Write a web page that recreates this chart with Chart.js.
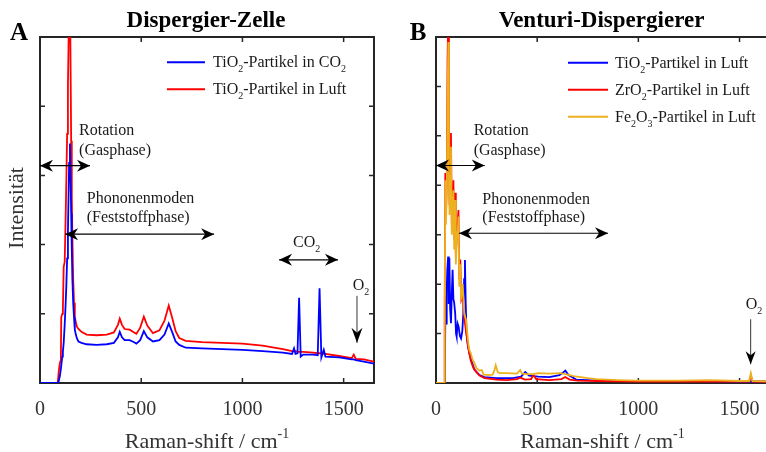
<!DOCTYPE html>
<html lang="de">
<head>
<meta charset="UTF-8" />
<title>Raman-Spektren</title>
<script src="https://cdn.jsdelivr.net/npm/chart.js"></script>
<style>
  html, body { margin: 0; padding: 0; background: #fff; overflow: hidden; }
  .panel { position: absolute; top: 0; }
  #chartA { left: 0; }
  #chartB { left: 383px; }
</style>
</head>
<body>
<canvas id="chartA" class="panel" width="383" height="452"></canvas>
<canvas id="chartB" class="panel" width="410" height="452"></canvas>

<script>
  // --- Panel A: Dispergier-Zelle ---
  const aShift = [0, 80, 88, 92, 98, 103, 105, 110, 113, 117, 122, 126, 130, 134, 138, 141, 144, 148, 151, 154, 157, 160, 164, 168, 172, 177, 183, 190, 205, 230, 280, 330, 365, 385, 394, 405, 418, 443, 465, 476, 495, 513, 530, 558, 590, 615, 636, 655, 670, 688, 720, 800, 900, 1000, 1100, 1200, 1245, 1255, 1262, 1272, 1280, 1288, 1300, 1350, 1372, 1381, 1390, 1402, 1410, 1477, 1540, 1550, 1560, 1600, 1650];
  const aTiCO2 = [0, 0, 0, 0.02, 0.1, 0.2, 0.25, 0.38, 0.45, 0.58, 0.85, 1.1, 1.4, 1.8, 2.2, 2.7, 3.18, 3.46, 3.0, 2.45, 1.95, 1.5, 1.16, 0.95, 0.77, 0.7, 0.64, 0.6, 0.58, 0.56, 0.55, 0.56, 0.58, 0.66, 0.74, 0.66, 0.62, 0.62, 0.59, 0.57, 0.62, 0.75, 0.66, 0.6, 0.62, 0.7, 0.86, 0.72, 0.6, 0.55, 0.51, 0.5, 0.49, 0.48, 0.46, 0.44, 0.42, 0.5, 0.42, 0.43, 1.23, 0.38, 0.41, 0.41, 0.4, 1.37, 0.37, 0.48, 0.38, 0.37, 0.34, 0.34, 0.33, 0.31, 0.28];
  const aTiLuft = [0, 0, 0.01, 0.15, 0.29, 0.33, 0.95, 1.0, 1.05, 1.68, 1.75, 2.3, 2.9, 3.6, 4.3, 4.9, 5.4, 5.7, 4.6, 3.5, 2.69, 2.1, 1.5, 1.16, 0.95, 0.88, 0.81, 0.78, 0.74, 0.7, 0.69, 0.7, 0.73, 0.84, 0.93, 0.84, 0.78, 0.77, 0.73, 0.71, 0.8, 0.96, 0.83, 0.72, 0.76, 0.9, 1.12, 0.92, 0.75, 0.65, 0.61, 0.59, 0.58, 0.57, 0.54, 0.49, 0.46, 0.46, 0.46, 0.45, 0.45, 0.45, 0.45, 0.44, 0.43, 0.43, 0.43, 0.42, 0.42, 0.39, 0.36, 0.41, 0.35, 0.34, 0.31];

  // --- Panel B: Venturi-Dispergierer ---
  const bTiShift = [0, 40, 44, 47, 50, 53, 56, 60, 63, 66, 70, 74, 78, 82, 86, 90, 95, 99, 102, 107, 112, 118, 124, 130, 135, 139, 143, 147, 151, 156, 160, 165, 175, 190, 215, 240, 300, 380, 420, 441, 460, 482, 505, 560, 610, 625, 639, 655, 693, 800, 1000, 1300, 1500, 1700];
  const bTiLuft = [0, 0, 0.3, 1.75, 1.2, 1.9, 2.3, 2.56, 1.6, 2.53, 1.5, 1.21, 1.8, 2.29, 1.7, 1.62, 1.4, 1.0, 0.94, 1.2, 1.14, 0.95, 0.9, 1.05, 1.4, 2.1, 2.49, 1.6, 1.0, 0.8, 0.7, 0.6, 0.45, 0.27, 0.16, 0.12, 0.1, 0.1, 0.13, 0.22, 0.15, 0.14, 0.13, 0.12, 0.16, 0.2, 0.25, 0.16, 0.07, 0.05, 0.04, 0.04, 0.03, 0.03];
  const bZrShift = [0, 40, 43, 46, 49, 53, 57, 61, 64, 67, 71, 74, 78, 82, 86, 90, 94, 98, 103, 108, 111, 115, 120, 125, 132, 140, 150, 160, 172, 185, 200, 215, 240, 300, 350, 400, 416, 440, 470, 481, 495, 560, 620, 639, 660, 700, 800, 1000, 1548, 1556, 1564, 1700];
  const bZrLuft = [0, 0, 1.5, 4.25, 3.4, 4.0, 6.5, 7.6, 4.6, 3.6, 4.4, 5.06, 3.2, 3.4, 4.1, 2.9, 3.85, 2.6, 3.0, 3.3, 3.5, 2.1, 2.5, 1.7, 1.8, 1.3, 1.0, 0.7, 0.45, 0.3, 0.22, 0.15, 0.1, 0.07, 0.06, 0.08, 0.11, 0.07, 0.08, 0.16, 0.08, 0.06, 0.08, 0.12, 0.07, 0.05, 0.04, 0.03, 0.03, 0.15, 0.03, 0.02];
  const bFeShift = [0, 40, 43, 46, 49, 53, 57, 61, 64, 67, 71, 74, 78, 82, 86, 90, 94, 98, 103, 108, 111, 115, 120, 124, 132, 140, 148, 155, 160, 165, 172, 181, 190, 200, 215, 226, 235, 260, 280, 288, 295, 305, 315, 350, 400, 416, 425, 450, 480, 505, 560, 614, 650, 680, 750, 795, 900, 1000, 1200, 1350, 1500, 1548, 1556, 1564, 1700];
  const bFeLuft = [0, 0, 1.2, 4.1, 3.2, 3.8, 5.8, 6.9, 4.2, 3.4, 4.2, 4.78, 3.0, 3.2, 3.9, 2.7, 3.7, 2.4, 2.9, 3.1, 3.37, 1.95, 2.4, 1.68, 2.0, 1.4, 1.28, 1.0, 0.8, 0.67, 0.6, 0.47, 0.4, 0.3, 0.25, 0.26, 0.17, 0.16, 0.17, 0.25, 0.36, 0.22, 0.2, 0.2, 0.19, 0.26, 0.19, 0.18, 0.18, 0.2, 0.19, 0.2, 0.17, 0.14, 0.1, 0.08, 0.06, 0.05, 0.05, 0.06, 0.04, 0.04, 0.2, 0.04, 0.03];

  const xTicks = [0, 500, 1000, 1500];

  const BLUE = "#0000ff";
  const RED = "#ff0000";
  const GOLD = "rgb(237,177,32)";
  const INK = "#262626";
  const SERIF = '"Liberation Serif", "Times New Roman", serif';

  const toPoints = (xs, ys) => xs.map((x, i) => ({ x, y: ys[i] }));

  // text with _{sub} and ^{sup}
  function drawRich(ctx, str, x, y, size, align, weight) {
    const parts = [];
    const re = /([_^])\{([^}]*)\}|([^_^]+)/g;
    let m;
    while ((m = re.exec(str))) {
      if (m[3]) parts.push({ t: m[3], k: "" });
      else parts.push({ t: m[2], k: m[1] });
    }
    const fontFor = k => `${weight || ""} ${k ? Math.round(size * 0.65) : size}px ${SERIF}`;
    let w = 0;
    parts.forEach(p => { ctx.font = fontFor(p.k); p.w = ctx.measureText(p.t).width; w += p.w; });
    let cx = align === "center" ? x - w / 2 : x;
    ctx.textAlign = "left";
    ctx.textBaseline = "alphabetic";
    parts.forEach(p => {
      ctx.font = fontFor(p.k);
      const dy = p.k === "_" ? size * 0.32 : p.k === "^" ? -size * 0.42 : 0;
      ctx.fillText(p.t, cx, y + dy);
      cx += p.w;
    });
  }

  function arrowHead(ctx, tx, ty, ang, len, half, notch) {
    ctx.save();
    ctx.translate(tx, ty);
    ctx.rotate(ang);
    ctx.beginPath();
    ctx.moveTo(0, 0);
    ctx.lineTo(-len, -half);
    ctx.lineTo(-notch, 0);
    ctx.lineTo(-len, half);
    ctx.closePath();
    ctx.fill();
    ctx.restore();
  }

  const decoPlugin = {
    id: "deco",
    // box and inward ticks sit under the spectra
    beforeDatasetsDraw(chart) {
      const { ctx, chartArea: a, scales: { x, y } } = chart;
      ctx.save();
      ctx.strokeStyle = INK;
      ctx.lineWidth = 2;
      ctx.strokeRect(a.left, a.top, a.right - a.left, a.bottom - a.top);
      ctx.lineWidth = 1.5;
      ctx.beginPath();
      x.ticks.forEach(t => {
        if (t.value <= x.min || t.value >= x.max) return;
        const px = x.getPixelForValue(t.value);
        ctx.moveTo(px, a.bottom); ctx.lineTo(px, a.bottom - 5);
        ctx.moveTo(px, a.top); ctx.lineTo(px, a.top + 5);
      });
      y.ticks.forEach(t => {
        if (t.value <= y.min || t.value >= y.max) return;
        const py = y.getPixelForValue(t.value);
        ctx.moveTo(a.left, py); ctx.lineTo(a.left + 5, py);
        ctx.moveTo(a.right, py); ctx.lineTo(a.right - 5, py);
      });
      ctx.stroke();
      ctx.restore();
    },
    afterDatasetsDraw(chart, args, opts) {
      const { ctx, chartArea: a, scales: { x, y } } = chart;
      ctx.save();

      // arrows
      ctx.fillStyle = "#000";
      ctx.strokeStyle = "#000";
      opts.arrows.forEach(ar => {
        const x1 = x.getPixelForValue(ar.x1), y1 = y.getPixelForValue(ar.y1);
        const x2 = x.getPixelForValue(ar.x2), y2 = y.getPixelForValue(ar.y2);
        const ang = Math.atan2(y2 - y1, x2 - x1);
        ctx.lineWidth = ar.width || 1.2;
        ctx.beginPath(); ctx.moveTo(x1, y1); ctx.lineTo(x2, y2); ctx.stroke();
        const h = ar.head || [13, 6, 9];
        arrowHead(ctx, x2, y2, ang, h[0], h[1], h[2]);
        if (ar.both) arrowHead(ctx, x1, y1, ang + Math.PI, h[0], h[1], h[2]);
      });

      // notes
      ctx.fillStyle = "#1a1a1a";
      opts.notes.forEach(n => {
        drawRich(ctx, n.text, x.getPixelForValue(n.x), y.getPixelForValue(n.y), 16, n.align || "left");
      });

      // legend
      const lg = opts.legend;
      chart.data.datasets.slice().sort((p, q) => p.legendIdx - q.legendIdx).forEach((ds, i) => {
        const ly = a.top + lg.top + i * lg.pitch;
        const lx = a.left + lg.left;
        ctx.strokeStyle = ds.borderColor;
        ctx.lineWidth = 2;
        ctx.beginPath(); ctx.moveTo(lx, ly); ctx.lineTo(lx + lg.len, ly); ctx.stroke();
        ctx.fillStyle = "#1a1a1a";
        drawRich(ctx, ds.label, lx + lg.len + lg.gap, ly + 5, 16, "left");
      });

      // titles
      const mid = (a.left + a.right) / 2;
      ctx.fillStyle = "#000";
      drawRich(ctx, opts.title, opts.titleX, 26.5, 23, "center", "bold");
      drawRich(ctx, opts.letter, opts.letterX, 40, 25, "left", "bold");
      ctx.fillStyle = "#333";
      drawRich(ctx, "Raman-shift / cm^{-1}", opts.titleX + 1, 447.5, 22, "center");
      if (opts.yTitle) {
        ctx.save();
        ctx.translate(23, 208);
        ctx.rotate(-Math.PI / 2);
        drawRich(ctx, opts.yTitle, 0, 0, 22, "center");
        ctx.restore();
      }
      ctx.restore();
    }
  };

  function makeChart(id, p) {
    const datasets = p.series.map(s => ({
      label: s.label,
      data: toPoints(s.xs, s.ys),
      borderColor: s.color,
      borderWidth: 1.8,
      pointRadius: 0,
      tension: 0,
      order: s.order,
      legendIdx: s.legendIdx
    }));
    return new Chart(document.getElementById(id), {
      type: "line",
      data: { datasets },
      plugins: [decoPlugin],
      options: {
        responsive: false,
        animation: false,
        events: [],
        layout: { padding: { top: 37, right: p.padRight, left: 0, bottom: 0 } },
        plugins: {
          legend: { display: false },
          tooltip: { enabled: false },
          deco: p.deco
        },
        scales: {
          x: {
            type: "linear",
            min: 0, max: p.xMax,
            afterBuildTicks: s => { s.ticks = xTicks.map(v => ({ value: v })); },
            afterFit: s => { s.height = 69; },
            grid: { display: false, drawTicks: false },
            border: { display: false },
            ticks: {
              padding: 15, color: "#333",
              font: { family: SERIF, size: 20 },
              callback: v => String(v)
            }
          },
          y: {
            min: 0, max: p.yMax,
            ticks: { display: false, stepSize: 1 },
            afterFit: s => { s.width = p.yWidth; },
            grid: { display: false, drawTicks: false },
            border: { display: false }
          }
        }
      }
    });
  }

  makeChart("chartA", {
    xMax: 1650, yMax: 5, yWidth: 40, padRight: 9,
    series: [
      { label: "TiO_{2}-Partikel in CO_{2}", xs: aShift, ys: aTiCO2, color: BLUE, order: 0, legendIdx: 0 },
      { label: "TiO_{2}-Partikel in Luft", xs: aShift, ys: aTiLuft, color: RED, order: 1, legendIdx: 1 }
    ],
    deco: {
      title: "Dispergier-Zelle", titleX: 206, letter: "A", letterX: 10, yTitle: "Intensität",
      legend: { left: 127, top: 25.3, pitch: 27, len: 38, gap: 8 },
      notes: [
        { text: "Rotation", x: 193, y: 3.58 },
        { text: "(Gasphase)", x: 193, y: 3.29 },
        { text: "Phononenmoden", x: 231, y: 2.6 },
        { text: "(Feststoffphase)", x: 231, y: 2.32 },
        { text: "CO_{2}", x: 1317, y: 1.96, align: "center" },
        { text: "O_{2}", x: 1545, y: 1.35 }
      ],
      arrows: [
        { x1: 0, y1: 3.14, x2: 247, y2: 3.14, both: true },
        { x1: 124, y1: 2.15, x2: 860, y2: 2.15, both: true },
        { x1: 1181, y1: 1.78, x2: 1472, y2: 1.78, both: true },
        { x1: 1566, y1: 1.26, x2: 1566, y2: 0.58, width: 0.8, head: [15, 5.5, 10] }
      ]
    }
  });

  makeChart("chartB", {
    xMax: 1700, yMax: 7, yWidth: 53, padRight: 13,
    series: [
      { label: "TiO_{2}-Partikel in Luft", xs: bTiShift, ys: bTiLuft, color: BLUE, order: 2, legendIdx: 0 },
      { label: "ZrO_{2}-Partikel in Luft", xs: bZrShift, ys: bZrLuft, color: RED, order: 1, legendIdx: 1 },
      { label: "Fe_{2}O_{3}-Partikel in Luft", xs: bFeShift, ys: bFeLuft, color: GOLD, order: 0, legendIdx: 2 }
    ],
    deco: {
      title: "Venturi-Dispergierer", titleX: 218.5, letter: "B", letterX: 26.7,
      legend: { left: 132, top: 25.7, pitch: 27, len: 40, gap: 7 },
      notes: [
        { text: "Rotation", x: 186, y: 5.02 },
        { text: "(Gasphase)", x: 186, y: 4.61 },
        { text: "Phononenmoden", x: 229, y: 3.62 },
        { text: "(Feststoffphase)", x: 229, y: 3.26 },
        { text: "O_{2}", x: 1531, y: 1.49 }
      ],
      arrows: [
        { x1: 0, y1: 4.4, x2: 241, y2: 4.4, both: true },
        { x1: 114, y1: 3.03, x2: 850, y2: 3.03, both: true },
        { x1: 1555, y1: 1.29, x2: 1555, y2: 0.38, width: 0.8, head: [13, 5, 9] }
      ]
    }
  });
</script>
</body>
</html>
